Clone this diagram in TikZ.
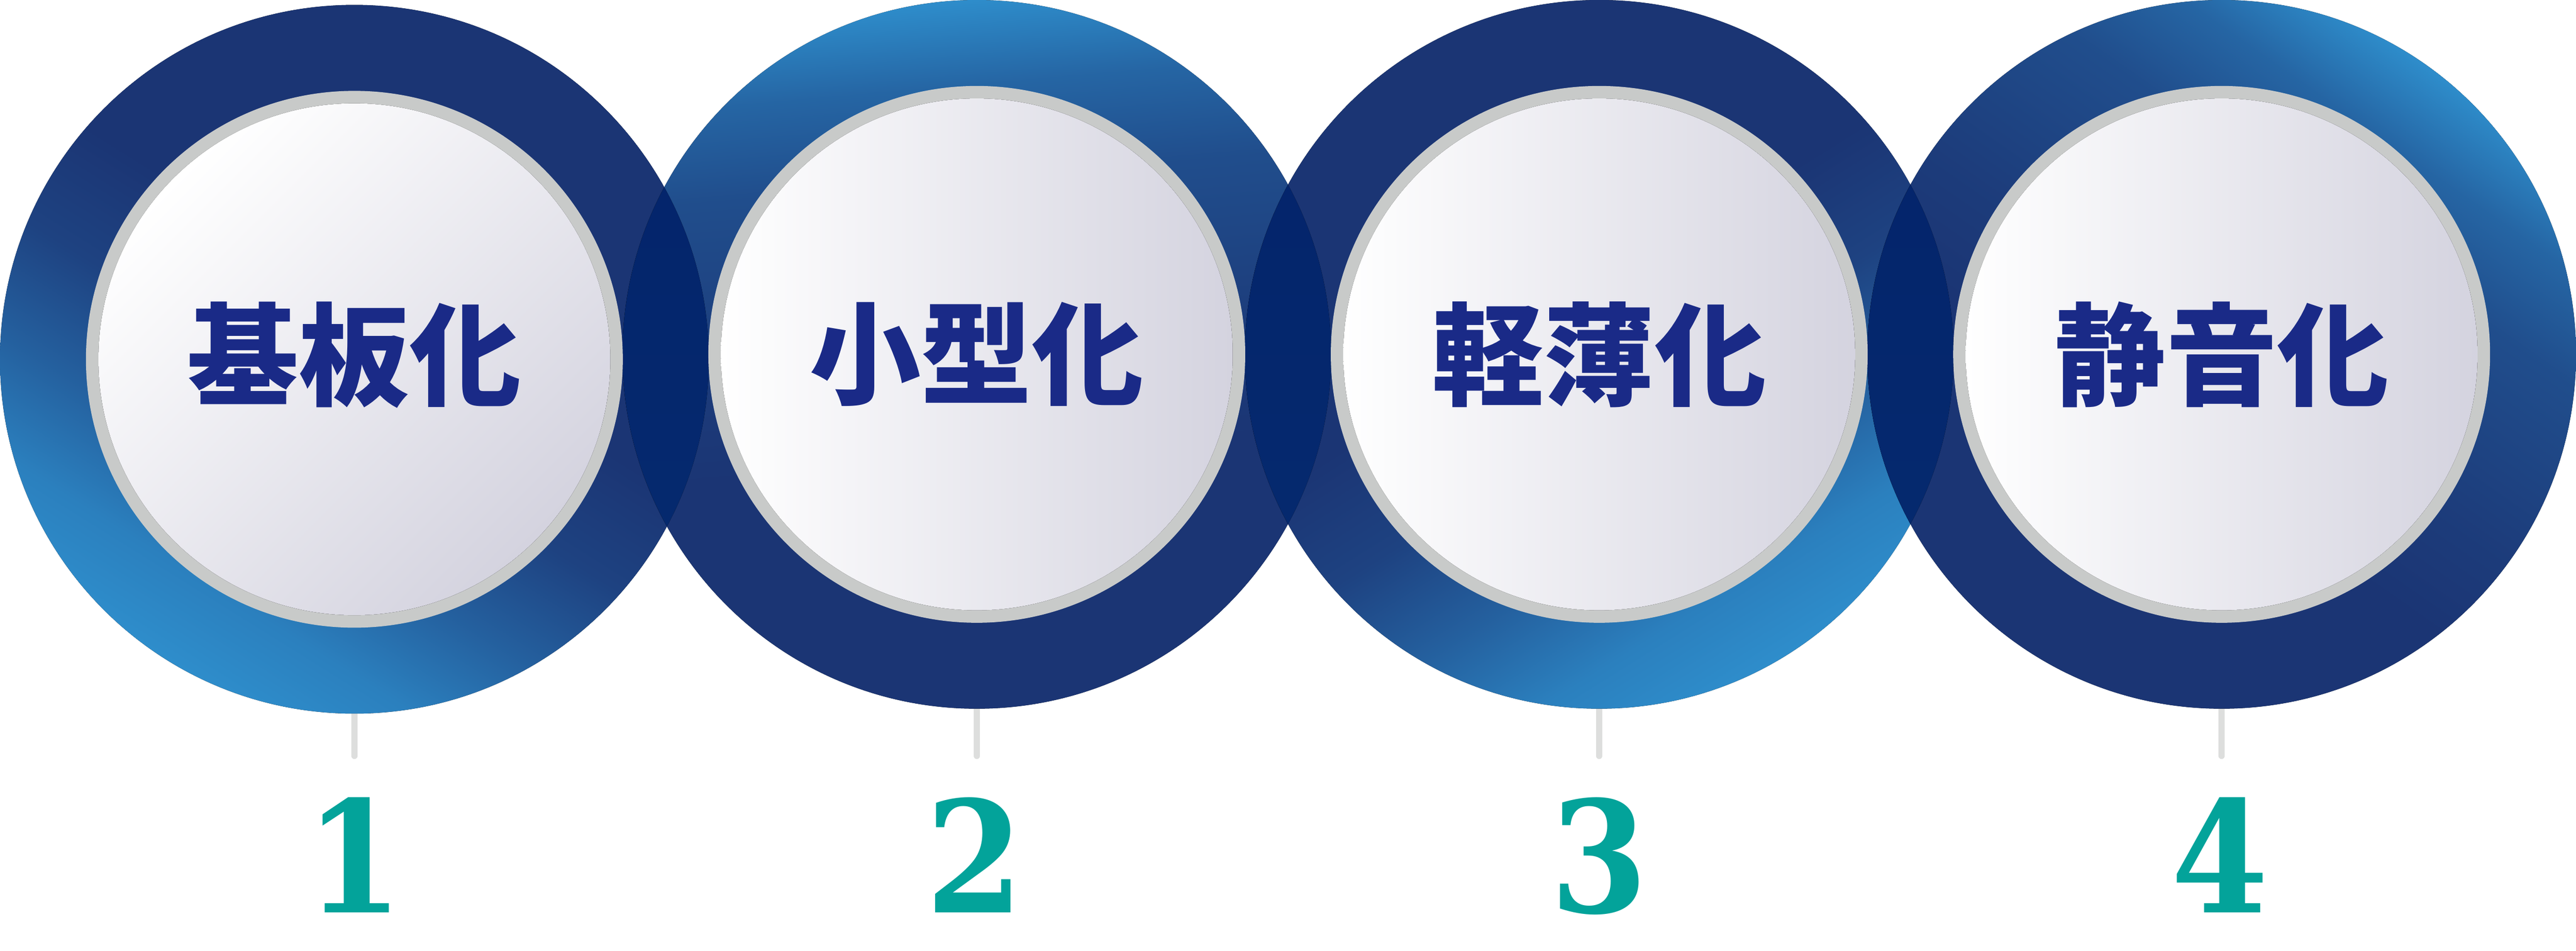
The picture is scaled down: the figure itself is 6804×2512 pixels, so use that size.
\documentclass[tikz,border=0pt]{standalone}
\usepackage{fontspec}
\newfontfamily\jpfont{Noto Sans CJK JP}
\newfontfamily\numfont{DejaVu Serif Condensed Bold}
\definecolor{lb}{HTML}{2E8DCB}
\definecolor{dk}{HTML}{1B3574}
\definecolor{lensT}{HTML}{03226A}
\definecolor{lensB}{HTML}{062C70}
\definecolor{ringgray}{HTML}{C8CAC9}
\definecolor{facegray}{HTML}{D4D3DF}
\definecolor{txtblue}{HTML}{1A2A87}
\definecolor{numteal}{HTML}{03A39A}
\definecolor{tickgray}{HTML}{DDDEDD}
\colorlet{lbA}{lb!85!dk}
\colorlet{lbB}{lb!50!dk}
\colorlet{lbC}{lb!15!dk}
\colorlet{lbD}{lb!55!dk}
\colorlet{lbE}{lb!28!dk}
\colorlet{lbF}{lb!8!dk}
% gradient light near one edge
\pgfdeclareverticalshading{ringsharp}{100bp}{color(0bp)=(lb); color(25bp)=(lb); color(31bp)=(lbA); color(38bp)=(lbB); color(46bp)=(lbC); color(54bp)=(dk); color(100bp)=(dk)}
% soft gradient
\pgfdeclareverticalshading{ringsoft}{100bp}{color(0bp)=(lb); color(25bp)=(lb); color(31bp)=(lbD); color(37.5bp)=(lbE); color(50bp)=(lbF); color(57.5bp)=(dk); color(100bp)=(dk)}
\begin{document}
\begin{tikzpicture}[x=0.1pt,y=0.1pt,
  ringband/.style={fill=ringgray},
  facediag/.style={top color=white, bottom color=facegray, shading angle=45},
  facehor/.style={left color=white, right color=facegray},
  lensfill/.style={top color=lensT, bottom color=lensB},
  label/.style={font=\jpfont\bfseries\fontsize{29.4pt}{30pt}\selectfont, text=txtblue, inner sep=0pt, anchor=center},
  num/.style={font=\numfont\fontsize{41pt}{42pt}\selectfont, text=numteal, inner sep=0pt, anchor=base},
  tick/.style={draw=tickgray, line width=1.6pt, line cap=round}]
\useasboundingbox (0,0) rectangle (6804,2512);
% centres
\coordinate (c1) at (936,1563);
\coordinate (c2) at (2580,1576);
\coordinate (c3) at (4224,1576);
\coordinate (c4) at (5868,1576);
% ticks (under circles)
\foreach \i/\x in {1/936,2/2580,3/4224,4/5868}{
  \coordinate (ta\i) at (\x,660);
  \coordinate (tb\i) at (\x,515);
  \draw[tick] (ta\i) -- (tb\i);
}
% outer circles
\fill[shading=ringsharp, shading angle=-32] (c1) circle (936);
\fill[shading=ringsoft, shading angle=185] (c2) circle (936);
\fill[shading=ringsharp, shading angle=32] (c3) circle (936);
\fill[shading=ringsoft, shading angle=145] (c4) circle (936);
% lenses
\begin{scope}\clip (c1) circle (936); \fill[lensfill] (c2) circle (936);\end{scope}
\begin{scope}\clip (c2) circle (936); \fill[lensfill] (c3) circle (936);\end{scope}
\begin{scope}\clip (c3) circle (936); \fill[lensfill] (c4) circle (936);\end{scope}
% rings and faces
\foreach \c in {c1,c2,c3,c4}{ \fill[ringband] (\c) circle (709); }
\fill[facediag] (c1) circle (676);
\fill[facehor] (c2) circle (676);
\fill[facehor] (c3) circle (676);
\fill[facehor] (c4) circle (676);
% texts
\node[label] (t1) at (936,1575) {基板化};
\node[label] (t2) at (2580,1576) {小型化};
\node[label] (t3) at (4224,1576) {軽薄化};
\node[label] (t4) at (5868,1576) {静音化};
% numbers
\node[num] (n1) at (936,101) {1};
\node[num] (n2) at (2575,101) {2};
\node[num] (n3) at (4224,101) {3};
\node[num] (n4) at (5864,101) {4};
\end{tikzpicture}
\end{document}
